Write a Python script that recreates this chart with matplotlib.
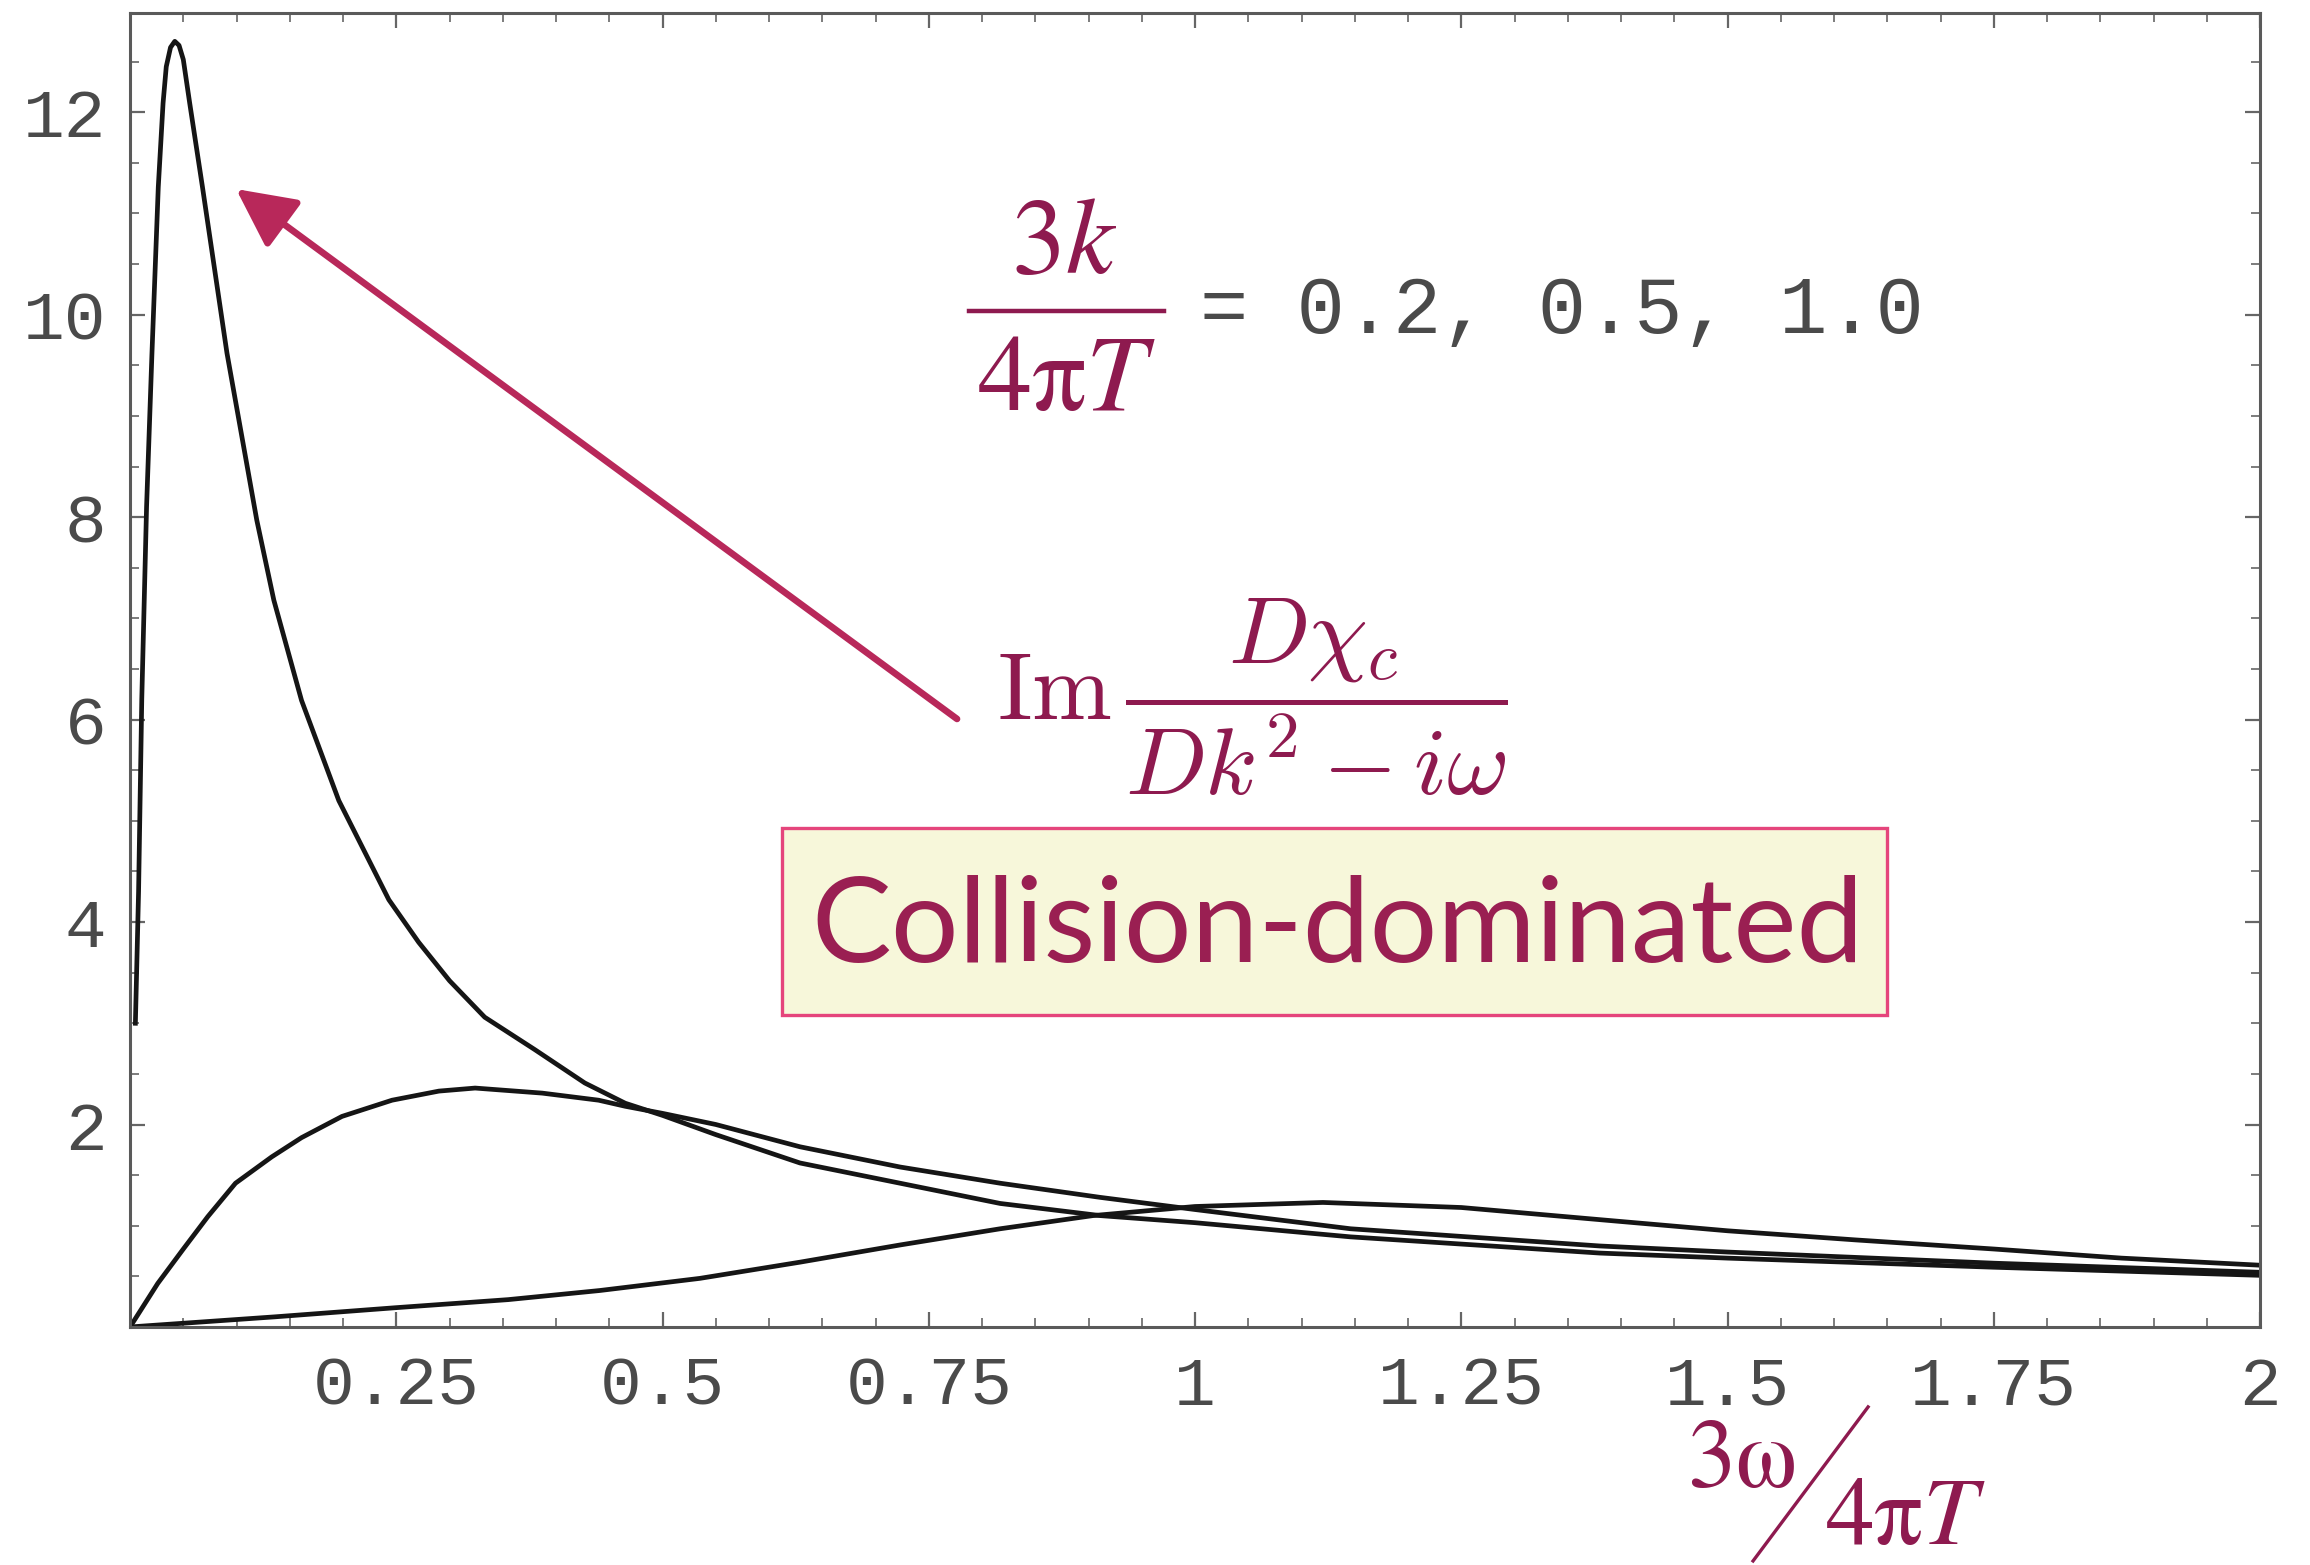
import matplotlib.pyplot as plt
from matplotlib.ticker import MultipleLocator
from matplotlib.patches import Rectangle
from matplotlib.lines import Line2D

# curves: 3k/(4 pi T) = 0.2, 0.5, 1.0
x_k02 = [0.005, 0.008, 0.011, 0.0155, 0.0205, 0.0265, 0.031, 0.034, 0.038, 0.042, 0.046,
         0.050, 0.056, 0.068, 0.091, 0.119, 0.135, 0.161, 0.196, 0.243, 0.271, 0.30, 0.333,
         0.38, 0.427, 0.465, 0.50, 0.55, 0.629, 0.723, 0.817, 0.911, 1.0, 1.146, 1.38, 1.5,
         1.75, 2.0]
y_k02 = [3.0, 4.3, 6.2, 8.1, 9.6, 11.26, 12.09, 12.45, 12.64, 12.70, 12.66,
         12.52, 12.09, 11.26, 9.62, 7.97, 7.18, 6.19, 5.2, 4.22, 3.80, 3.42, 3.06,
         2.74, 2.41, 2.21, 2.09, 1.9, 1.62, 1.42, 1.22, 1.1, 1.03, 0.89, 0.73, 0.68,
         0.59, 0.51]

x_k05 = [0.0, 0.026, 0.05, 0.073, 0.099, 0.133, 0.161, 0.199, 0.246, 0.29, 0.324, 0.387,
         0.44, 0.465, 0.5, 0.55, 0.629, 0.723, 0.817, 0.911, 1.0, 1.146, 1.38, 1.5, 1.75, 2.0]
y_k05 = [0.0, 0.43, 0.77, 1.09, 1.42, 1.68, 1.87, 2.08, 2.24, 2.33, 2.36, 2.31,
         2.24, 2.18, 2.11, 2.0, 1.78, 1.58, 1.42, 1.28, 1.16, 0.97, 0.80, 0.74, 0.63, 0.54]

x_k10 = [0.0, 0.136, 0.249, 0.355, 0.441, 0.535, 0.629, 0.723, 0.817, 0.904, 1.0, 1.12,
         1.25, 1.38, 1.5, 1.62, 1.75, 1.87, 2.0]
y_k10 = [0.0, 0.10, 0.19, 0.27, 0.36, 0.48, 0.64, 0.81, 0.97, 1.10, 1.19, 1.23,
         1.18, 1.06, 0.95, 0.86, 0.77, 0.68, 0.61]

xticks = [0.25, 0.5, 0.75, 1.0, 1.25, 1.5, 1.75, 2.0]
xlabels = ["0.25", "0.5", "0.75", "1", "1.25", "1.5", "1.75", "2"]
yticks = [2, 4, 6, 8, 10, 12]
ylabels = ["2", "4", "6", "8", "10", "12"]

maroon = "#8e1a4f"
mono = "Liberation Mono"

fig = plt.figure(figsize=(23.1, 15.65), dpi=100)
ax = fig.add_axes([0.0563, 0.1521, 0.9221, 0.8396])

for xs, ys in [(x_k02, y_k02), (x_k05, y_k05), (x_k10, y_k10)]:
    ax.plot(xs, ys, color="#151515", lw=3.4, solid_joinstyle="round")

ax.set_xlim(0, 2)
ax.set_ylim(0, 12.98)
ax.set_xticks(xticks)
ax.set_xticklabels(xlabels)
ax.set_yticks(yticks)
ax.set_yticklabels(ylabels)
ax.xaxis.set_minor_locator(MultipleLocator(0.05))
ax.yaxis.set_minor_locator(MultipleLocator(0.5))
ax.tick_params(which="both", direction="in", top=True, right=True, color="#666666")
ax.tick_params(which="major", length=11, width=1.6)
ax.tick_params(which="minor", length=6.5, width=1.2)
ax.tick_params(axis="x", which="major", pad=20)
ax.tick_params(axis="y", which="major", pad=17)
for lab in ax.get_xticklabels() + ax.get_yticklabels():
    lab.set_fontfamily(mono)
    lab.set_fontsize(50)
    lab.set_color("#4a4a4a")
for sp in ax.spines.values():
    sp.set_color("#5a5a5a")
    sp.set_linewidth(2.2)

# 3k / 4 pi T  (drawn as numerator, bar, denominator)
fig.text(0.4606, 0.8447, r"$3k$", color=maroon, fontsize=78,
         math_fontfamily="stix", ha="center", va="center")
fig.add_artist(Line2D([0.4195, 0.5039], [0.8013, 0.8013], transform=fig.transFigure,
                      color=maroon, lw=3.2))
fig.text(0.4615, 0.7572, r"$\mathrm{4π}T$", color=maroon, fontsize=78,
         math_fontfamily="stix", ha="center", va="center")
fig.text(0.5195, 0.8006, "= 0.2, 0.5, 1.0", family=mono, fontsize=58, color="#4a4a4a",
         ha="left", va="center")

fig.text(0.5424, 0.5546, r"$\mathrm{Im}\,\dfrac{D\chi_c}{Dk^2-i\omega}$", color=maroon,
         fontsize=69, math_fontfamily="cm", ha="center", va="center")

fig.add_artist(Rectangle((0.3385, 0.3514), 0.4784, 0.1195, transform=fig.transFigure,
                         facecolor="#f7f7da", edgecolor="#e5457c", lw=2.4, zorder=4))
fig.text(0.5792, 0.4065, "Collision-dominated", family="Lato", fontsize=86, color="#9a1f52",
         ha="center", va="center", zorder=5)

ax.annotate("", xy=(0.1022, 0.8792), xytext=(0.4143, 0.5406),
            xycoords="figure fraction", textcoords="figure fraction",
            arrowprops=dict(arrowstyle="-|>,head_length=0.9,head_width=0.45",
                            mutation_scale=40, color="#b8285a", lw=4.8,
                            shrinkA=0, shrinkB=0))

# x-axis label as slashed fraction
fig.text(0.7537, 0.0665, r"$\mathrm{3ω}$", color=maroon, fontsize=70,
         math_fontfamily="stix", ha="center", va="center")
fig.add_artist(Line2D([0.7589, 0.8087], [0.0026, 0.1010], transform=fig.transFigure,
                      color=maroon, lw=2.4))
fig.text(0.8247, 0.0305, r"$\mathrm{4π}T$", color=maroon, fontsize=70,
         math_fontfamily="stix", ha="center", va="center")

fig.savefig("out.png", dpi=100)
